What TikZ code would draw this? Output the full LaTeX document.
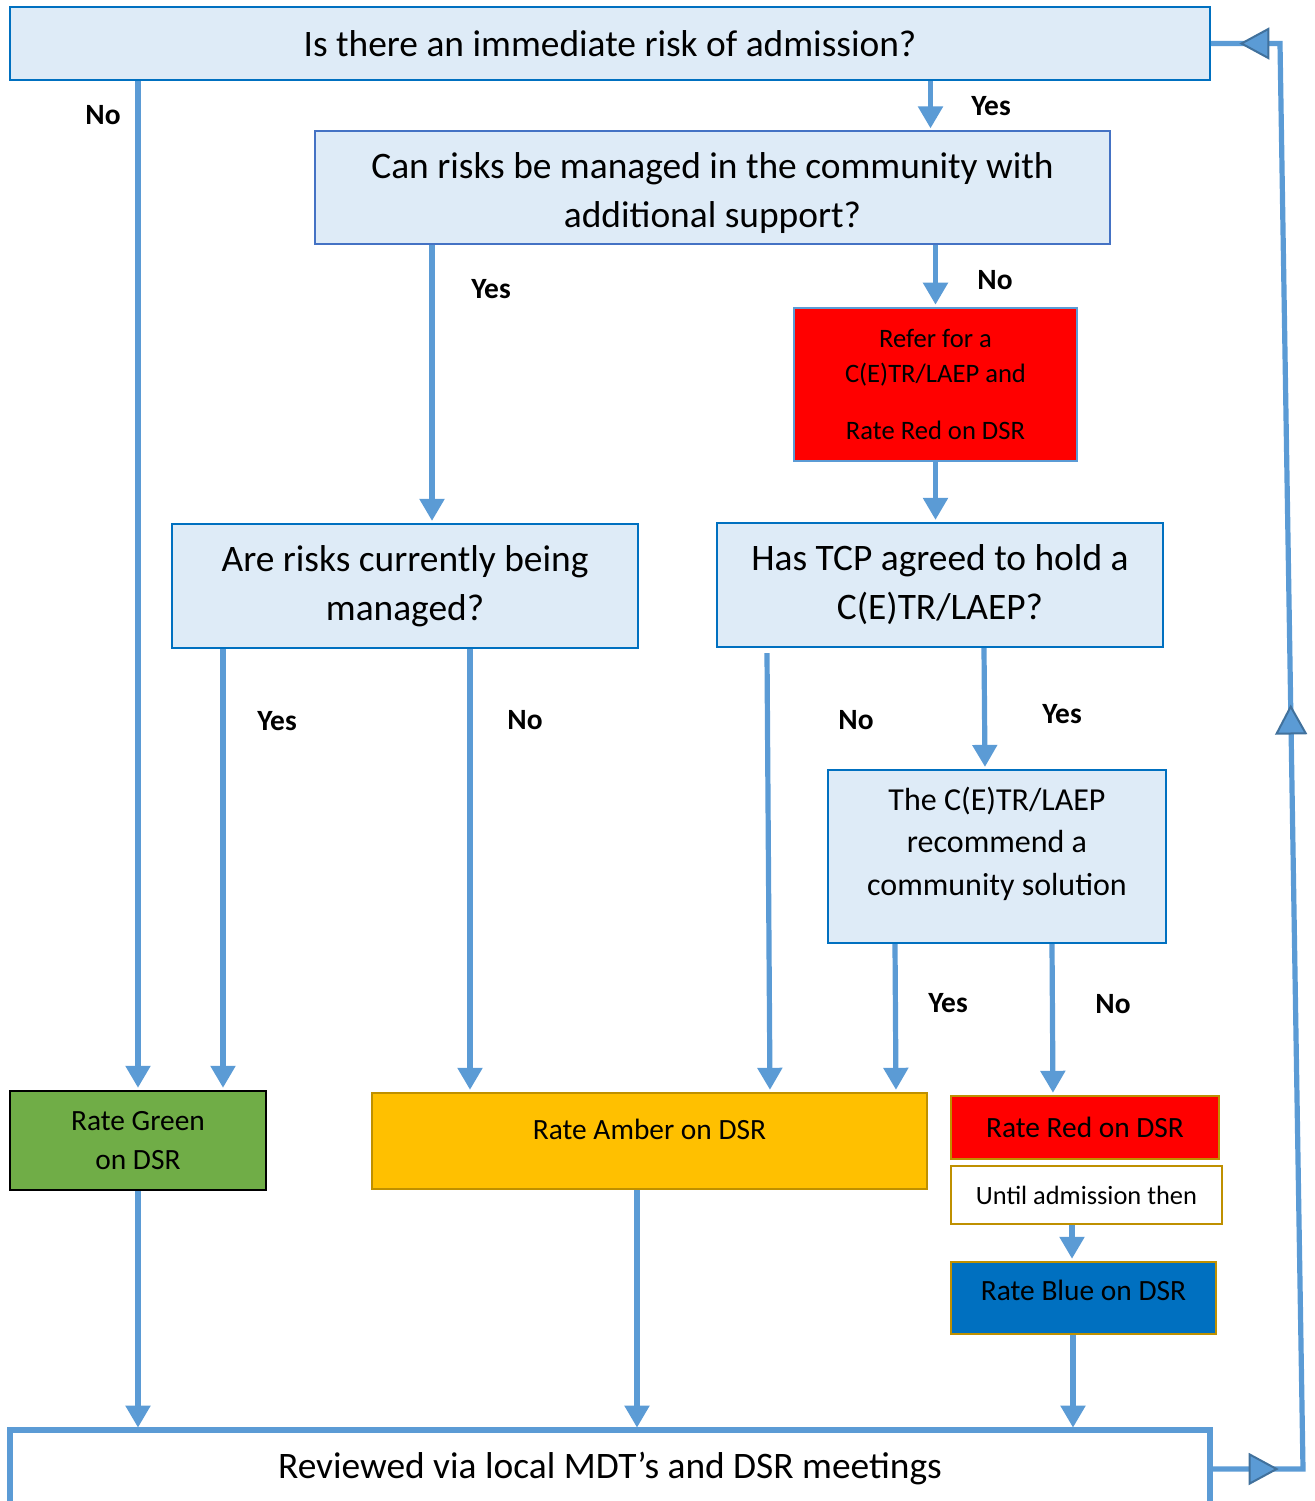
\documentclass[tikz,border=0pt]{standalone}
\usepackage{fontspec}
\setmainfont{Carlito}
\usetikzlibrary{calc}
\usetikzlibrary{arrows.meta}
\usetikzlibrary{decorations.markings}
\definecolor{flowblue}{HTML}{5B9BD5}
\definecolor{tipblue}{HTML}{41719C}
\definecolor{qfill}{HTML}{DEEBF7}
\definecolor{qline}{HTML}{0070C0}
\definecolor{qthin}{HTML}{4472C4}
\definecolor{ratered}{HTML}{FF0000}
\definecolor{rategreen}{HTML}{70AD47}
\definecolor{rateamber}{HTML}{FFC000}
\definecolor{rateblue}{HTML}{0070C0}
\definecolor{rategold}{HTML}{BF9000}
\newcommand{\looptip}{\arrow{Triangle[length=15pt,width=16pt,fill=flowblue,color=tipblue,line width=1pt]}}
\tikzset{
  question/.style={draw=qline, fill=qfill, line width=1.1pt, align=center, inner sep=0pt},
  bigtext/.style={font=\fontsize{18.7}{24.5}\selectfont},
  rating/.style={draw=rategold, line width=1.2pt, align=center, inner sep=0pt, font=\fontsize{14.7}{19.5}\selectfont},
  flow/.style={draw=flowblue, line width=2.6pt, shorten >=1pt, -{Triangle[length=11pt,width=12pt]}},
  answer/.style={font=\bfseries\fontsize{14.7}{17}\selectfont},
}

\begin{document}
\begin{tikzpicture}[x=0.5pt,y=-0.5pt]
    \useasboundingbox (0,0) rectangle (1314,1501);
    % questions
    \node[question, bigtext, line width=0.8pt, minimum width=600pt, minimum height=36.5pt] (risk) at (610,43.5) {Is there an immediate risk of admission?};
    \node[question, bigtext, draw=qthin, line width=0.6pt, minimum width=397.5pt, minimum height=56.5pt] (community) at (712.5,187.5) {\rule{0pt}{19pt}Can risks be managed in the community with\\additional support?};
    \node[draw=flowblue, fill=ratered, line width=1.3pt, align=center, inner sep=0pt, minimum width=141.5pt, minimum height=76.5pt, font=\fontsize{13.3}{17.5}\selectfont] (refer) at (935.5,384.5) {Refer for a\\C(E)TR/LAEP and\\[11pt]Rate Red on DSR};
    \node[question, bigtext, minimum width=233pt, minimum height=62pt] (managed) at (405,586) {Are risks currently being\\managed?};
    \node[question, bigtext, minimum width=223pt, minimum height=62pt] (tcp) at (940,585) {Has TCP agreed to hold a\\C(E)TR/LAEP?};
    \node[question, minimum width=169pt, minimum height=86.5pt, font=\fontsize{16}{21.25}\selectfont] (solution) at (997,856.5) {The C(E)TR/LAEP\\recommend a\\community solution\\[-6pt]};
    % ratings
    \node[rating, draw=black, fill=rategreen, minimum width=128pt, minimum height=49.5pt] (green) at (138,1140.5) {Rate Green\\on DSR};
    \node[rating, fill=rateamber, minimum width=277.5pt, minimum height=48pt] (amber) at (649.5,1141) {Rate Amber on DSR\\[-7.5pt]};
    \node[rating, fill=ratered, minimum width=134pt, minimum height=31.5pt] (red) at (1085,1127.5) {Rate Red on DSR};
    \node[rating, fill=white, minimum width=135.5pt, minimum height=29pt, font=\fontsize{13.2}{15}\selectfont] (until) at (1086.5,1195) {Until admission then};
    \node[rating, fill=rateblue, minimum width=132.5pt, minimum height=36pt] (blue) at (1083.5,1298) {Rate Blue on DSR\\[-11.5pt]};
    \node[bigtext, inner sep=0pt, minimum width=600pt, minimum height=39pt] (review) at (610,1469) {Reviewed via local MDT’s and DSR meetings};
    \draw[flowblue, line width=3pt] (review.south west) |- (review.north east) -- (review.south east);
    % answers
    \node[answer] (noA) at (103,115) {No};
    \node[answer] (yesA) at (991,106) {Yes};
    \node[answer] (yesB) at (491,289) {Yes};
    \node[answer] (noB) at (995,280) {No};
    \node[answer] (yesC) at (277,721) {Yes};
    \node[answer] (noC) at (525,720) {No};
    \node[answer] (noD) at (856,720) {No};
    \node[answer] (yesD) at (1062,714) {Yes};
    \node[answer] (yesE) at (948,1003) {Yes};
    \node[answer] (noE) at (1113,1004) {No};
    % flow
    \draw[flow] (risk.south -| green.north) -- (green.north);
    \draw[flow] ($(risk.south -| refer.north)+(-5,0)$) -- ($(community.north -| refer.north)+(-5,0)$);
    \draw[flow] ($(community.south -| managed.north)+(27,0)$) -- ($(managed.north)+(27,0)$);
    \draw[flow] (community.south -| refer.north) -- (refer.north);
    \draw[flow] (refer.south) -- (refer.south |- tcp.north);
    \draw[flow] ($(managed.south)+(-182,0)$) -- ($(green.north)+(85,0)$);
    \draw[flow] ($(managed.south)+(65,0)$) -- ($(amber.north)+(-179.5,0)$);
    \draw[flow] ($(tcp.south)+(-173,5)$) -- ($(amber.north)+(120.5,0)$);
    \draw[flow] ($(tcp.south)+(44,0)$) -- ($(solution.north)+(-12,0)$);
    \draw[flow] ($(solution.south)+(-102,0)$) -- ($(amber.north)+(246.5,0)$);
    \draw[flow] ($(solution.south)+(55,0)$) -- ($(red.north)+(-32,0)$);
    \draw[flow] ($(until.south)+(-14.5,0)$) -- ($(blue.north)+(-11.5,0)$);
    \draw[flow] (green.south) -- (green.south |- review.north);
    \draw[flow] ($(amber.south)+(-12.5,0)$) -- ($(review.north)+(27,0)$);
    \draw[flow] ($(blue.south)+(-10.5,0)$) -- ($(review.north)+(463,0)$);
    % loop back to the top
    \coordinate (loopbot) at (1303,1469);
    \coordinate (looptop) at (1280,43.5);
    \draw[flowblue, line width=2.6pt, postaction={decorate},
      decoration={markings,
        mark=at position 0.043 with {\looptip},
        mark=at position 0.54 with {\looptip},
        mark=at position 0.982 with {\looptip}}]
      (review.east) -- (loopbot) -- (looptop) -- (risk.east);
\end{tikzpicture}
\end{document}
